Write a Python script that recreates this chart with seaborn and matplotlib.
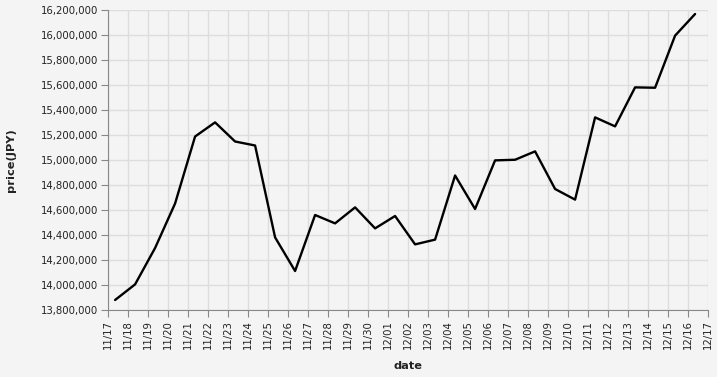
import matplotlib
matplotlib.use("Agg")
import matplotlib.pyplot as plt
import matplotlib.dates as mdates
import matplotlib.ticker as mticker
import seaborn as sns
import pandas as pd

dates = ["2024-11-17 08:30", "2024-11-18 08:30", "2024-11-19 08:30", "2024-11-20 08:30",
         "2024-11-21 08:30", "2024-11-22 08:30", "2024-11-23 08:30", "2024-11-24 08:30",
         "2024-11-25 08:30", "2024-11-26 08:30", "2024-11-27 08:30", "2024-11-28 08:30",
         "2024-11-29 08:30", "2024-11-30 08:30", "2024-12-01 08:30", "2024-12-02 08:30",
         "2024-12-03 08:30", "2024-12-04 08:30", "2024-12-05 08:30", "2024-12-06 08:30",
         "2024-12-07 08:30", "2024-12-08 08:30", "2024-12-09 08:30", "2024-12-10 08:30",
         "2024-12-11 08:30", "2024-12-12 08:30", "2024-12-13 08:30", "2024-12-14 08:30",
         "2024-12-15 08:30", "2024-12-16 08:30"]
prices = [13880000, 14005000, 14296000, 14652000, 15188000, 15301000, 15148000, 15116000,
          14381000, 14112000, 14560000, 14493000, 14621000, 14453000, 14552000, 14325000,
          14363000, 14876000, 14608000, 14997000, 15002000, 15069000, 14768000, 14683000,
          15341000, 15269000, 15581000, 15578000, 15995000, 16168000]
x_start, x_end = "2024-11-17", "2024-12-17"
y_min, y_max, y_step = 13800000, 16200000, 200000

df = pd.DataFrame({"date": pd.to_datetime(dates), "price": prices})

sns.set_style("whitegrid")
plt.rcParams["font.family"] = ["DejaVu Sans"]

bg = "#f4f4f4"
fig = plt.figure(figsize=(7.17, 3.77), dpi=100, facecolor=bg)
ax = fig.add_axes([108/717, 67/377, 600/717, 300/377])
ax.set_facecolor(bg)

sns.lineplot(data=df, x="date", y="price", ax=ax, color="black", linewidth=1.7)

ax.set_xlim(pd.Timestamp(x_start), pd.Timestamp(x_end))
ax.set_ylim(y_min, y_max)
ax.xaxis.set_major_locator(mdates.DayLocator())
ax.xaxis.set_major_formatter(mdates.DateFormatter("%m/%d"))
ax.yaxis.set_major_locator(mticker.MultipleLocator(y_step))
ax.yaxis.set_major_formatter(mticker.FuncFormatter(lambda v, p: f"{int(round(v)):,}"))

ax.grid(True, color="#dddddd", linewidth=1.0)
for s in ["top", "right"]:
    ax.spines[s].set_visible(False)
for s in ["left", "bottom"]:
    ax.spines[s].set_visible(True)
    ax.spines[s].set_color("#888888")
    ax.spines[s].set_linewidth(0.8)
ax.tick_params(axis="both", which="major", length=5, width=0.8, color="#888888",
               labelsize=7.3, labelcolor="#222222", pad=2, bottom=True, left=True)
plt.setp(ax.get_xticklabels(), rotation=90)

ax.set_xlabel("date", fontsize=8.2, fontweight="bold", labelpad=9, color="#222222")
ax.set_ylabel("price(JPY)", fontsize=8.2, fontweight="bold", labelpad=18, color="#222222")

fig.savefig("out.png", dpi=100, facecolor=bg)
